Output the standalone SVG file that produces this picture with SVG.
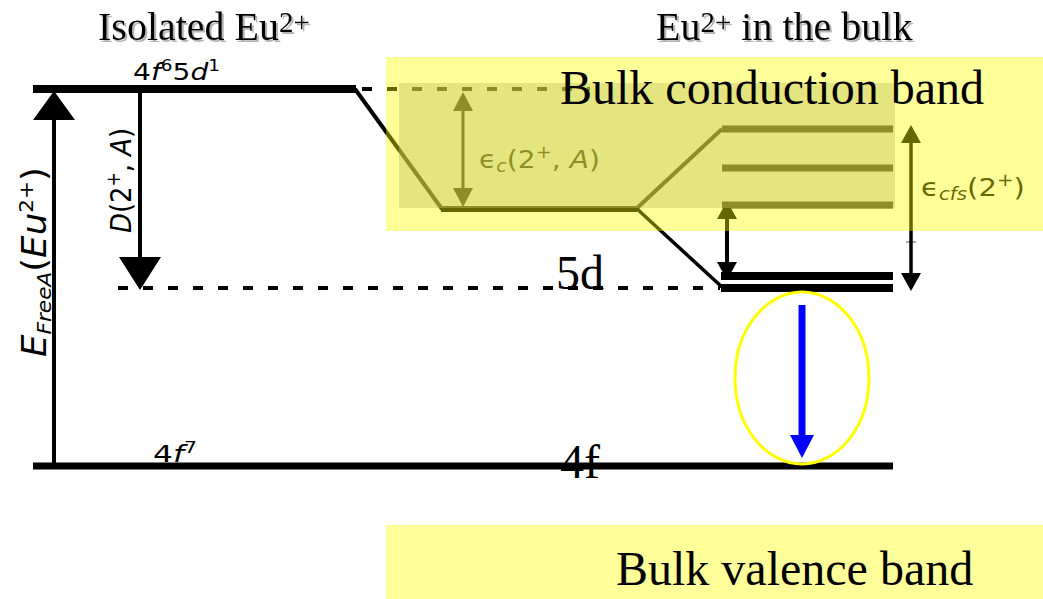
<svg xmlns="http://www.w3.org/2000/svg" width="1043" height="599" viewBox="0 0 1043 599">
<defs>
<filter id="shadow" x="-5%" y="-20%" width="110%" height="150%">
<feDropShadow dx="2" dy="2" stdDeviation="0.7" flood-color="#777" flood-opacity="0.55"/>
</filter>
</defs>
<style>
.title{font-family:"Liberation Serif","Times New Roman",serif;font-size:40px;fill:#000;filter:url(#shadow)}
.big{font-family:"Liberation Serif","Times New Roman",serif;font-size:48px;fill:#000}
.math{font-family:"DejaVu Sans","Noto Sans",sans-serif;fill:#000}
.it{font-style:italic}
.lvl{stroke:#000;fill:none}
.dash{stroke:#000;stroke-width:4;stroke-dasharray:10 15;fill:none}
.head{fill:#000;stroke:none}
.shaft{stroke:#000;fill:none}
.band{fill:#ffff99}
</style>
<rect width="1043" height="599" fill="#fff"/>

<!-- titles -->
<text class="title" x="98" y="40">Isolated Eu<tspan font-size="29" dy="-8">2+</tspan></text>
<text class="title" x="656" y="40">Eu<tspan font-size="29" dy="-8">2+</tspan><tspan dy="8"> in the bulk</tspan></text>

<!-- valence band -->
<rect id="valence-band" class="band" x="386" y="525" width="657" height="74"/>

<!-- levels and connectors -->
<g id="connectors">
<line class="lvl" x1="33" y1="89" x2="356" y2="89" stroke-width="8"/>
<line class="dash" x1="362" y1="89" x2="590" y2="89"/>
<line class="lvl" x1="355" y1="89" x2="442" y2="209" stroke-width="4"/>
<line class="lvl" x1="441" y1="209" x2="637" y2="209" stroke-width="6"/>
<line class="lvl" x1="636" y1="209" x2="722" y2="129" stroke-width="4"/>
<line class="lvl" x1="636" y1="208" x2="722" y2="287" stroke-width="3.5"/>
<line class="lvl" x1="722" y1="129" x2="893" y2="129" stroke-width="7"/>
<line class="lvl" x1="722" y1="168" x2="893" y2="168" stroke-width="7"/>
<line class="lvl" x1="722" y1="205" x2="893" y2="205" stroke-width="7"/>
<line class="lvl" x1="721" y1="276" x2="893" y2="276" stroke-width="8"/>
<line class="lvl" x1="721" y1="288" x2="893" y2="288" stroke-width="8"/>
<line class="dash" x1="118" y1="288" x2="720" y2="288"/>
<line class="lvl" x1="33" y1="466" x2="893" y2="466" stroke-width="7"/>
<line x1="906" y1="242" x2="916" y2="242" stroke="#555" stroke-width="1"/>

<!-- E_FreeA arrow -->
<line class="shaft" x1="54" y1="466" x2="54" y2="118" stroke-width="4"/>
<polygon class="head" points="33,120 75,120 54,91"/>
<!-- D arrow -->
<line class="shaft" x1="140" y1="93" x2="140" y2="259" stroke-width="4"/>
<polygon class="head" points="119,257 161,257 140,290"/>
<!-- eps_c arrow -->
<line class="shaft" x1="463" y1="109" x2="463" y2="190" stroke-width="3"/>
<polygon class="head" points="453,111 473,111 463,92"/>
<polygon class="head" points="453,188 473,188 463,207"/>
<!-- small arrow -->
<line class="shaft" x1="727" y1="216" x2="727" y2="264" stroke-width="4"/>
<polygon class="head" points="717,219 737,219 727,201"/>
<polygon class="head" points="717,262 737,262 727,280"/>
<!-- eps_cfs arrow -->
<line class="shaft" x1="911" y1="141" x2="911" y2="275" stroke-width="3.5"/>
<polygon class="head" points="901,143 921,143 911,125"/>
<polygon class="head" points="901,273 921,273 911,291"/>
</g>

<!-- labels tinted by band overlay -->
<text class="math" x="479" y="168" font-size="25" textLength="121" lengthAdjust="spacingAndGlyphs">ϵ<tspan class="it" font-size="17" dy="4">c</tspan><tspan dy="-4">(2</tspan><tspan font-size="17" dy="-10">+</tspan><tspan dy="10">, </tspan><tspan class="it">A</tspan>)</text>
<text class="math" x="921" y="196" font-size="25" textLength="104" lengthAdjust="spacingAndGlyphs">ϵ<tspan class="it" font-size="17" dy="4">cfs</tspan><tspan dy="-4">(2</tspan><tspan font-size="17" dy="-10">+</tspan><tspan dy="10">)</tspan></text>

<!-- inner grey box and conduction band overlay -->
<rect x="399" y="83" width="496" height="125" fill="#9b9b9b" fill-opacity="0.43"/>
<g id="conduction-band">
<rect x="386" y="57" width="657" height="174" fill="#ffff00" fill-opacity="0.4"/>
<text class="big" x="560" y="104">Bulk conduction band</text>
</g>

<!-- other labels -->
<text class="math" x="133" y="80" font-size="23" textLength="87" lengthAdjust="spacingAndGlyphs"><tspan>4</tspan><tspan class="it">f</tspan><tspan font-size="15" dy="-9">6</tspan><tspan dy="9">5</tspan><tspan class="it">d</tspan><tspan font-size="15" dy="-9">1</tspan></text>
<text class="math" x="153" y="462" font-size="23" textLength="44" lengthAdjust="spacingAndGlyphs">4<tspan class="it">f</tspan><tspan font-size="15" dy="-9">7</tspan></text>
<text class="math" transform="translate(131,233) rotate(-90)" font-size="29" textLength="105" lengthAdjust="spacingAndGlyphs"><tspan class="it">D</tspan>(2<tspan font-size="19" dy="-11">+</tspan><tspan dy="11">, </tspan><tspan class="it">A</tspan>)</text>
<text class="math" transform="translate(46,357) rotate(-90)" font-size="33" textLength="190" lengthAdjust="spacingAndGlyphs"><tspan class="it">E</tspan><tspan class="it" font-size="20" dy="5">FreeA</tspan><tspan dy="-5">(</tspan><tspan class="it">Eu</tspan><tspan font-size="20" dy="-13">2+</tspan><tspan dy="13">)</tspan></text>

<text class="big" x="556" y="289">5d</text>
<text class="big" x="560" y="478">4f</text>
<text class="big" x="616" y="585">Bulk valence band</text>

<!-- emission -->
<g id="emission">
<ellipse cx="802" cy="378" rx="67" ry="86" fill="none" stroke="#ffff00" stroke-width="3"/>
<line x1="802" y1="305" x2="802" y2="437" stroke="#0000ff" stroke-width="7"/>
<polygon points="790,435 814,435 802,458" fill="#0000ff"/>
</g>
</svg>
